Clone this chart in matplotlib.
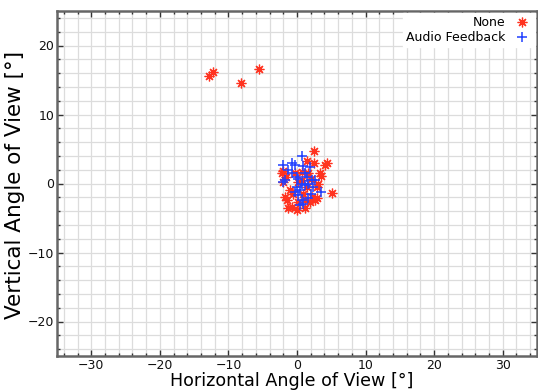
import numpy as np
import matplotlib
matplotlib.use("Agg")
import matplotlib.pyplot as plt
from matplotlib.ticker import MultipleLocator

none_x = [-12.86, -12.28, -8.17, -5.57,
          2.45, 4.15, 4.35, 2.45, 1.5, -2.0, -2.2, -1.65, -2.0, 3.33, 3.57, 5.16,
          2.85, 3.1, -1.74, -1.5, -0.78, -0.06, 1.16, 1.88, 2.12, 2.6, 2.85, 0.2,
          -0.3, 0.2, 0.67, -0.54, -1.0, 1.64, 2.1, 0.9, 1.16, -1.26, 0.67, 1.4]
none_y = [15.55, 16.17, 14.58, 16.57,
          4.72, 2.65, 2.9, 3.04, 3.3, 1.83, 1.45, 0.87, 0.23, 1.45, 1.06, -1.36,
          -0.5, 0.0, -1.94, -2.4, -3.4, -3.87, -3.62, -2.66, -1.94, -2.4, -2.17, -2.66,
          1.45, 0.23, 1.68, -1.45, -0.97, 1.45, 0.72, -1.45, -2.4, -3.62, 0.48, -0.5]

audio_x = [0.67, -2.0, -0.78, -0.3, 0.9, 1.88, -2.0, -1.8, -0.78, -0.06, 0.2, 0.67,
           -0.06, 0.43, 1.16, 1.64, 2.36, 3.57, 2.12, 0.2, 0.67, 0.9, 1.64, -0.3,
           1.16, 1.4, -1.26, 2.6, 0.43, 2.1]
audio_y = [3.96, 2.65, 2.9, 2.65, 2.5, 2.41, 0.23, 0.5, 1.45, 0.96, 0.7, 0.0,
           -0.5, -0.97, -0.25, 0.0, -0.5, -1.21, 0.48, -1.7, -2.4, -2.9, -2.17, -1.2,
           1.45, 0.96, 1.93, 0.48, -3.1, -1.45]

red = "#ff3320"
blue = "#2040ff"
spine = "#666666"

fig = plt.figure(figsize=(5.38, 3.92), dpi=100)
ax = fig.add_axes([57 / 538, 36 / 392, 480 / 538, 345 / 392])

ax.plot(none_x, none_y, linestyle="none", marker=(8, 2, 0), markersize=7,
        markeredgewidth=0.9, color=red, label="None", zorder=3)
ax.plot(audio_x, audio_y, linestyle="none", marker="+", markersize=7.5,
        markeredgewidth=1.1, color=blue, label="Audio Feedback", zorder=3)

ax.set_xlim(-35, 35)
ax.set_ylim(-25, 25)
ax.xaxis.set_major_locator(MultipleLocator(10))
ax.xaxis.set_minor_locator(MultipleLocator(2))
ax.yaxis.set_major_locator(MultipleLocator(10))
ax.yaxis.set_minor_locator(MultipleLocator(2))
ax.grid(True, which="both", color="#dcdcdc", linewidth=0.9, zorder=0)
ax.set_axisbelow(True)

ax.tick_params(which="both", direction="in", top=True, right=True,
               colors="#333333", labelcolor="#111111", labelsize=9, pad=2)
ax.tick_params(which="major", length=4, width=1)
ax.tick_params(which="minor", length=2.5, width=1)
for s in ax.spines.values():
    s.set_color(spine)
    s.set_linewidth(1.8)

ax.set_xlabel("Horizontal Angle of View [°]", fontsize=12.6)
ax.xaxis.set_label_coords(0.488, -0.046)
ax.set_ylabel("Vertical Angle of View [°]", fontsize=15.5)
ax.yaxis.set_label_coords(-0.066, 0.496)

leg = ax.legend(loc="upper right", markerfirst=False, frameon=True, fancybox=False,
                fontsize=9, handletextpad=0.5, borderpad=0.25, labelspacing=0.15,
                borderaxespad=0.15, handlelength=1.6)
leg.get_frame().set_edgecolor("white")
leg.get_frame().set_alpha(1.0)
for t in leg.get_texts():
    t.set_ha("right")

fig.savefig("out.png", dpi=100)
